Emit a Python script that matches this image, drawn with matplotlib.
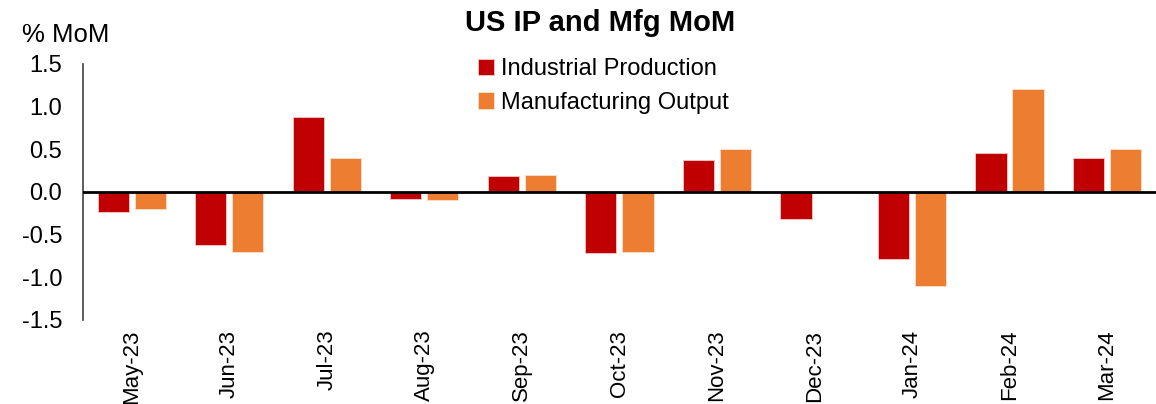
import numpy as np
import matplotlib
matplotlib.use('Agg')
import matplotlib.pyplot as plt

plt.rcParams['font.family'] = ['Liberation Sans', 'DejaVu Sans']

months = ['May-23', 'Jun-23', 'Jul-23', 'Aug-23', 'Sep-23', 'Oct-23',
          'Nov-23', 'Dec-23', 'Jan-24', 'Feb-24', 'Mar-24']
ip = [-0.23, -0.62, 0.88, -0.08, 0.19, -0.72, 0.37, -0.32, -0.79, 0.45, 0.40]
mfg = [-0.20, -0.70, 0.40, -0.10, 0.20, -0.70, 0.50, 0.00, -1.10, 1.20, 0.50]
yticks = [1.5, 1.0, 0.5, 0.0, -0.5, -1.0, -1.5]

fig = plt.figure(figsize=(11.56, 4.04), dpi=100)
ax = fig.add_axes([0.0718, 0.208, 0.928, 0.634])

x = np.arange(len(months))
w = 0.32
ax.bar(x - 0.19, ip, w, color='#C00000', edgecolor='#f4c7c7', linewidth=0.6,
       label='Industrial Production', zorder=2)
ax.bar(x + 0.19, mfg, w, color='#ED7D31', edgecolor='#fbe0cc', linewidth=0.6,
       label='Manufacturing Output', zorder=2)
ax.axhline(0, color='black', linewidth=2, zorder=3)

ax.set_xlim(-0.5, len(months) - 0.5)
ax.set_ylim(-1.5, 1.5)
ax.set_yticks(yticks)
ax.set_yticklabels(['%.1f' % v for v in yticks], fontsize=17)
ax.set_xticks(x)
ax.set_xticklabels(months, rotation=90, fontsize=16)
ax.tick_params(axis='y', length=0, pad=15)
ax.tick_params(axis='x', length=0, pad=7)

for s in ['top', 'right', 'bottom']:
    ax.spines[s].set_visible(False)
ax.spines['left'].set_color('#404040')
ax.spines['left'].set_linewidth(1.2)

fig.text(0.519, 0.943, 'US IP and Mfg MoM', ha='center', va='center',
         fontsize=21, fontweight='bold')
fig.text(0.019, 0.914, '% MoM', ha='left', va='center', fontsize=18.5)

leg = ax.legend(loc='upper center', bbox_to_anchor=(0.485, 1.105), ncol=1,
                frameon=False, fontsize=17, handlelength=0.7, handleheight=0.7,
                handletextpad=0.3, labelspacing=0.5)

fig.savefig('out.png', dpi=100)
